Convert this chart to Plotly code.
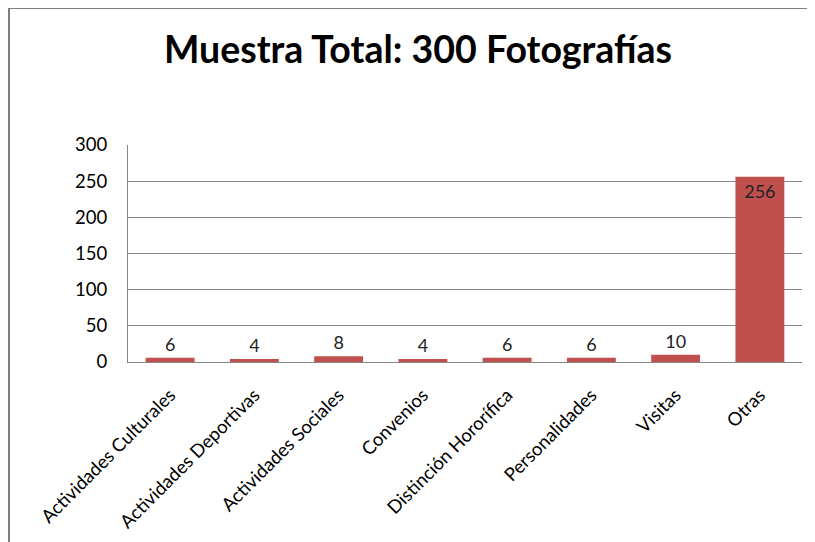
import plotly.graph_objects as go

categories = ["Actividades Culturales", "Actividades Deportivas", "Actividades Sociales",
              "Convenios", "Distinción Hororífica", "Personalidades", "Visitas", "Otras"]
values = [6, 4, 8, 4, 6, 6, 10, 256]
y_ticks = [0, 50, 100, 150, 200, 250, 300]
title_text = "Muestra Total: 300 Fotografías"

FONT = "Lato, Open Sans, sans-serif"
positions = ["inside" if v > 100 else "outside" for v in values]

W, H = 807, 534
L, R, T, B = 120, 13, 137, 180
pw, ph = W - L - R, H - T - B

fig = go.Figure(go.Bar(
    x=categories, y=values,
    marker=dict(color="#C0504D", line=dict(width=0)),
    text=[str(v) for v in values],
    textposition=positions,
    insidetextanchor="end",
    textfont=dict(family=FONT, size=18, color="#222222"),
    cliponaxis=False,
))

fig.update_layout(
    width=W, height=H,
    margin=dict(l=L, r=R, t=T, b=B),
    paper_bgcolor="white", plot_bgcolor="white",
    showlegend=False,
    bargap=0.42,
    title=dict(text=title_text, x=410 / W, xref="container", xanchor="center",
               y=1 - 42 / H, yref="container", yanchor="middle",
               font=dict(family=FONT, size=37.5, color="black", weight="bold")),
    font=dict(family=FONT, size=16, color="black"),
    xaxis=dict(tickangle=-45, showgrid=False, showline=True, linecolor="#868686",
               linewidth=1, ticks="", tickfont=dict(size=18.5), automargin=False,
               ticklabelstandoff=14),
    yaxis=dict(range=[0, 300], tickvals=y_ticks, showgrid=True, gridcolor="#868686",
               gridwidth=1, showline=True, linecolor="#868686", linewidth=1,
               ticks="", tickfont=dict(size=18.5), zeroline=False, automargin=False,
               ticklabelstandoff=16),
    shapes=[
        dict(type="line", xref="paper", yref="paper",
             x0=(1 - L) / pw, x1=(W + 20 - L) / pw,
             y0=1 + (T - 0) / ph, y1=1 + (T - 0) / ph,
             line=dict(color="#7F7F7F", width=2)),
        dict(type="line", xref="paper", yref="paper",
             x0=(1 - L) / pw, x1=(1 - L) / pw,
             y0=1 + (T - 0) / ph, y1=-(B + 20) / ph,
             line=dict(color="#7F7F7F", width=2)),
    ],
)

fig.write_html("out.html")
